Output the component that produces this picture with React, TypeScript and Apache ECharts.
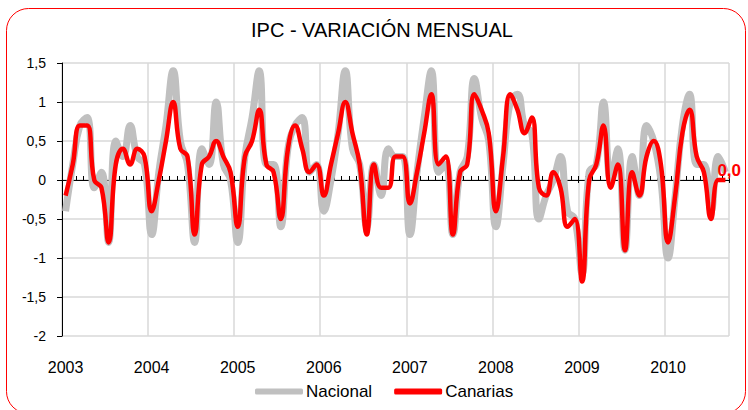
import React, { useEffect, useRef } from 'react';
import * as echarts from 'echarts';

// ---- data (monthly CPI variation, %, Jan 2003 – Sep 2010) ----
const years = ['2003', '2004', '2005', '2006', '2007', '2008', '2009', '2010'];

const nacional = [
  -0.4, 0.2, 0.7, 0.8, -0.1, 0.1, -0.8, 0.5, 0.3, 0.7, 0.3, 0.2,
  -0.7, 0.1, 0.7, 1.4, 0.5, 0.2, -0.8, 0.4, 0.2, 1.0, 0.2, 0.0,
  -0.8, 0.3, 0.8, 1.4, 0.2, 0.2, -0.6, 0.4, 0.7, 0.8, 0.1, 0.2,
  -0.4, 0.0, 0.6, 1.4, 0.4, 0.2, -0.6, 0.2, -0.2, 0.4, 0.3, 0.3,
  -0.7, 0.1, 0.8, 1.4, 0.1, 0.2, -0.7, 0.1, 0.3, 1.3, 0.8, 0.5,
  -0.6, 0.2, 1.0, 1.1, 0.7, 0.6, -0.5, -0.2, 0.0, 0.3, -0.4, -0.5,
  -1.2, 0.1, 0.2, 1.0, 0.0, 0.4, -0.9, 0.3, -0.2, 0.7, 0.5, 0.0,
  -1.0, -0.2, 0.7, 1.1, 0.2, 0.2, -0.4, 0.3, 0.1,
];

const canarias = [
  -0.2, 0.2, 0.7, 0.7, 0.0, -0.1, -0.8, 0.2, 0.4, 0.2, 0.4, 0.3,
  -0.4, 0.0, 0.5, 1.0, 0.4, 0.3, -0.7, 0.2, 0.3, 0.5, 0.3, 0.1,
  -0.6, 0.3, 0.5, 0.9, 0.2, 0.1, -0.5, 0.4, 0.7, 0.4, 0.1, 0.2,
  -0.2, 0.2, 0.6, 1.0, 0.6, 0.2, -0.7, 0.2, -0.1, -0.1, 0.3, 0.3,
  -0.3, 0.1, 0.6, 1.1, 0.2, 0.3, -0.7, 0.1, 0.2, 1.1, 0.9, 0.6,
  -0.4, 0.3, 1.1, 0.9, 0.6, 0.8, -0.1, -0.2, 0.1, -0.1, -0.6, -0.5,
  -1.3, 0.0, 0.2, 0.7, -0.1, 0.2, -0.9, 0.1, -0.2, 0.3, 0.5, 0.2,
  -0.8, -0.2, 0.6, 0.9, 0.3, 0.1, -0.5, 0.0, 0.0,
];

const yMin = -2;
const yMax = 1.5;
const yStep = 0.5;

const categories = nacional.map(
  (_, i) => `${years[Math.floor(i / 12)]}-${String((i % 12) + 1).padStart(2, '0')}`
);

const FONT = '"Liberation Sans", Arial, Helvetica, sans-serif';
const fmt = (v: number) => String(v).replace('.', ',');
const isYearStart = (i: number) => i % 12 === 0;

export default function App() {
  const ref = useRef<HTMLDivElement>(null);

  useEffect(() => {
    document.body.style.margin = '0';
    const chart = echarts.init(ref.current!, null, { renderer: 'svg' });
    chart.setOption({
      animation: false,
      backgroundColor: '#ffffff',
      textStyle: { fontFamily: FONT },
      title: {
        text: 'IPC - VARIACIÓN MENSUAL',
        left: 251,
        top: 20,
        padding: 0,
        textStyle: { fontFamily: FONT, fontSize: 20, fontWeight: 'normal', color: '#000' },
      },
      graphic: [
        {
          type: 'rect',
          shape: { x: 6.5, y: 8.5, width: 739, height: 405, r: 22 },
          style: { fill: 'none', stroke: '#FF0000', lineWidth: 1 },
          silent: true,
          z: 100,
        },
      ],
      legend: {
        left: 250,
        top: 378,
        icon: 'roundRect',
        itemWidth: 48,
        itemHeight: 6,
        itemGap: 22,
        textStyle: { fontFamily: FONT, fontSize: 17, color: '#000', padding: [0, 0, 0, -2] },
        data: ['Nacional', 'Canarias'],
      },
      grid: { left: 62, right: 19, top: 63, bottom: 74, containLabel: false },
      xAxis: [
        {
          type: 'category',
          data: categories,
          position: 'bottom',
          boundaryGap: true,
          axisLine: { show: false, onZero: false },
          axisTick: { show: false },
          axisLabel: {
            interval: isYearStart,
            formatter: (v: string) => v.slice(0, 4),
            margin: 23,
            fontFamily: FONT,
            fontSize: 16,
            color: '#000',
          },
          splitLine: {
            show: true,
            interval: isYearStart,
            lineStyle: { color: '#D9D9D9', width: 1.5 },
          },
        },
        {
          type: 'category',
          data: categories,
          position: 'bottom',
          boundaryGap: true,
          axisLine: { show: true, onZero: true, onZeroAxisIndex: 0, lineStyle: { color: '#000', width: 1 } },
          axisTick: { show: true, interval: 0, inside: true, length: 4, lineStyle: { color: '#000', width: 1 } },
          axisLabel: { show: false },
          splitLine: { show: false },
        },
        {
          type: 'category',
          data: categories,
          position: 'bottom',
          boundaryGap: true,
          axisLine: { show: false, onZero: true, onZeroAxisIndex: 1 },
          axisTick: { show: true, interval: isYearStart, inside: false, length: 3, lineStyle: { color: '#000', width: 1 } },
          axisLabel: { show: false },
          splitLine: { show: false },
        },
      ],
      yAxis: [
        {
          type: 'value',
          min: yMin,
          max: yMax,
          interval: yStep,
          axisLine: { show: true, onZero: false, lineStyle: { color: '#000', width: 1 } },
          axisTick: { show: true, length: 5, lineStyle: { color: '#000' } },
          axisLabel: {
            formatter: (v: number) => fmt(v),
            margin: 16,
            fontFamily: FONT,
            fontSize: 14,
            color: '#000',
          },
          splitLine: { show: true, lineStyle: { color: '#D9D9D9', width: 1.5 } },
        },
        {
          type: 'value',
          min: yMin,
          max: yMax,
          interval: yStep,
          position: 'left',
          axisLine: { show: false, onZero: false },
          axisTick: { show: false },
          axisLabel: { show: false },
          splitLine: { show: false },
        },
      ],
      series: [
        {
          name: 'Nacional',
          type: 'line',
          data: nacional,
          smooth: 0.45,
          showSymbol: false,
          symbol: 'none',
          color: '#C0C0C0',
          lineStyle: { color: '#C0C0C0', width: 7 },
          z: 2,
        },
        {
          name: 'Canarias',
          type: 'line',
          data: canarias,
          smooth: 0.45,
          showSymbol: false,
          symbol: 'none',
          color: '#FF0000',
          lineStyle: { color: '#FF0000', width: 4.5 },
          z: 3,
          endLabel: {
            show: true,
            formatter: (p: any) => {
              const v = Array.isArray(p.value) ? p.value[p.value.length - 1] : p.value;
              return Number(v).toFixed(1).replace('.', ',');
            },
            color: '#FF0000',
            fontFamily: FONT,
            fontWeight: 'bold',
            fontSize: 17,
            distance: 0,
            offset: [-8, -10],
          },
        },
      ],
    });
    return () => chart.dispose();
  }, []);

  return (
    <div
      ref={ref}
      style={{ position: 'absolute', left: 0, top: 0, width: 748, height: 410, background: '#fff' }}
    />
  );
}
